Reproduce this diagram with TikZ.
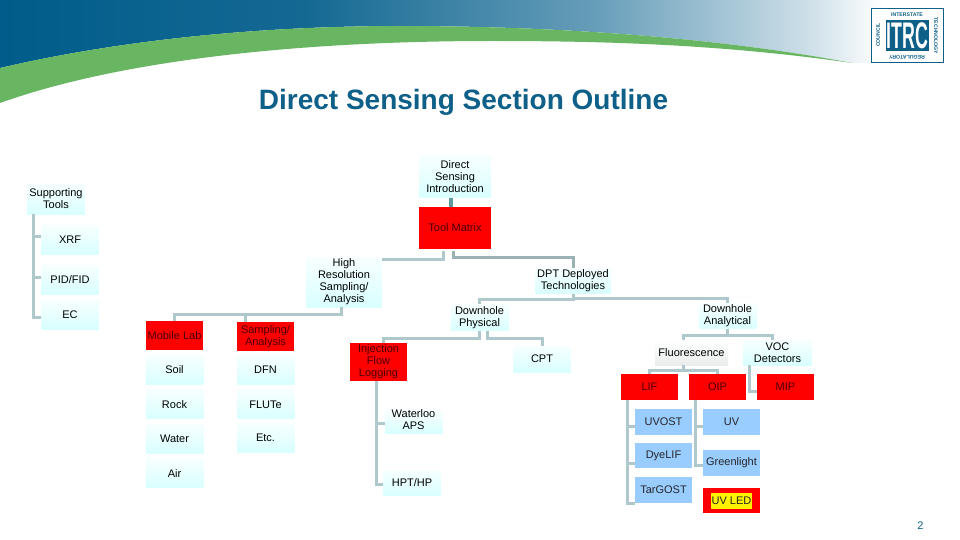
\documentclass[tikz,border=0pt]{standalone}
\usepackage{fontspec}
\setmainfont{Liberation Sans}
\usepackage{xcolor}
\definecolor{itblue}{HTML}{0F6088}
\definecolor{itdeep}{HTML}{005C8A}
\definecolor{itgreen}{HTML}{68B562}
\definecolor{linkgrey}{HTML}{AFC8CC}
\definecolor{linkdark}{HTML}{9BB2B5}
\definecolor{linkteal}{HTML}{5F979F}
\definecolor{boxred}{HTML}{FF0000}
\definecolor{boxsky}{HTML}{99CCFF}
\definecolor{redtext}{HTML}{4A0000}
\usepackage{tikz}
\usetikzlibrary{positioning,calc}
\pgfdeclarehorizontalshading{bannerfade}{100bp}{color(0bp)=(itdeep);color(25bp)=(itdeep);color(41bp)=(itdeep!92!white);color(56bp)=(itdeep!60!white);color(67bp)=(itdeep!20!white);color(71bp)=(white);color(100bp)=(white)}

\begin{document}
\begin{tikzpicture}[x=1pt,y=-1pt]
\tikzset{
 txt/.style={inner sep=0pt,align=center,font=\fontsize{11}{12}\selectfont},
 palebox/.style={txt,top color=cyan!3!white,bottom color=cyan!15!white,minimum width=57.5pt,minimum height=26pt},
 tallbox/.style={palebox,minimum height=29pt},
 redbox/.style={txt,fill=boxred,text=redtext,minimum width=57pt,minimum height=26pt},
 skybox/.style={txt,fill=boxsky,text=black!85,minimum width=57pt,minimum height=26pt},
 link/.style={draw=linkgrey,line width=3pt},
 linkd/.style={draw=linkdark,line width=3pt},
 logotxt/.style={inner sep=0pt,text=itblue,font=\fontsize{5.2}{6}\selectfont\bfseries}
}
\useasboundingbox (0,0) rectangle (960,540);
\fill[white] (0,0) rectangle (960,540);
% banner
\begin{scope}
\clip (0,0) -- (0,68) .. controls (120,40) and (260,26) .. (400,26) .. controls (560,26) and (720,38) .. (852,63) -- (960,63) -- (960,0) -- cycle;
\shade[shading=bannerfade] (0,0) rectangle (960,70);
\end{scope}
\fill[itgreen] (0,68) .. controls (120,40) and (260,26) .. (400,26) .. controls (560,26) and (720,38) .. (852,63) .. controls (720,44) and (600,41) .. (492,41) .. controls (300,41) and (120,60) .. (0,103) -- cycle;
% logo
\node[draw=itblue,line width=1pt,fill=white,minimum width=72pt,minimum height=54pt,inner sep=0pt] (logo) at (907,36) {};
\node[fill=itblue,minimum width=43pt,minimum height=31pt,inner sep=0pt,text=white,font=\fontsize{37}{37}\selectfont\bfseries] (itrc) at (907.5,35.5) {\scalebox{.48}[1]{ITRC}};
\node[logotxt] (lg1) at (907,15) {INTERSTATE};
\node[logotxt,rotate=90] (lg2) at (878,35) {COUNCIL};
\node[logotxt,rotate=-90] (lg3) at (936,36) {TECHNOLOGY};
\node[logotxt,rotate=180] (lg4) at (907,57.5) {REGULATORY};
% title
\node[inner sep=0pt,text=itblue,font=\fontsize{28}{32}\selectfont\bfseries] (title) at (463.5,102.5) {Direct Sensing Section Outline};
\node[inner sep=0pt,text=itblue,font=\fontsize{11}{12}\selectfont] (pagenum) at (920.5,526) {2};
% top
\node[palebox,minimum width=72pt,minimum height=42pt] (intro) at (455,176.5) {Direct\\Sensing\\Introduction};
\node[redbox,minimum width=72pt,minimum height=42pt] (matrix) at (455,228) {Tool Matrix};
\node[palebox,minimum height=30pt] (support) at (56,199) {Supporting\\Tools};
\node[tallbox] (xrf) at (70,239.5) {XRF};
\node[tallbox] (pid) at (70,279.5) {PID/FID};
\node[tallbox] (ec) at (70,314.5) {EC};
% left branch
\node[palebox,minimum width=75pt,minimum height=50pt] (hires) at (344,282) {High\\Resolution\\Sampling/\\Analysis};
\node[redbox,minimum height=29pt] (mobile) at (174.5,335.5) {Mobile Lab};
\node[tallbox,below=5pt of mobile] (soil) {Soil};
\node[tallbox,below=5pt of soil] (rock) {Rock};
\node[tallbox,below=5pt of rock] (water) {Water};
\node[tallbox,below=5pt of water] (air) {Air};
\node[redbox,minimum height=29pt] (sampling) at (265.5,336.5) {Sampling/\\Analysis};
\node[tallbox,below=4pt of sampling] (dfn) {DFN};
\node[tallbox,below=5pt of dfn] (flute) {FLUTe};
\node[tallbox,below=4pt of flute] (etc) {Etc.};
% right branch
\node[palebox,minimum width=76pt,minimum height=25pt] (dpt) at (573,281) {DPT Deployed\\Technologies};
\node[palebox] (physical) at (479.5,317.5) {Downhole\\Physical};
\node[palebox,minimum height=25pt] (analytical) at (727.5,316) {Downhole\\Analytical};
\node[redbox,minimum height=38pt] (injection) at (378.5,362) {Injection\\Flow\\Logging};
\node[palebox,top color=white] (waterloo) at (413.5,420) {Waterloo\\APS};
\node[palebox,minimum height=25pt] (hpt) at (412,482.5) {HPT/HP};
\node[palebox] (cpt) at (542,359) {CPT};
\node[palebox,top color=white,bottom color=cyan!12!black!8!white,minimum width=73pt,minimum height=25pt] (fluor) at (691.5,352.5) {Fluorescence};
\node[palebox,minimum width=69pt,minimum height=25pt] (voc) at (777.5,352.5) {VOC\\Detectors};
\node[redbox] (lif) at (649.5,387) {LIF};
\node[redbox] (oip) at (717.5,387) {OIP};
\node[redbox] (mip) at (785.5,387) {MIP};
\node[skybox] (uvost) at (663.5,422) {UVOST};
\node[skybox,minimum height=25pt] (dye) at (663.5,455.5) {DyeLIF};
\node[skybox] (tar) at (663.5,490) {TarGOST};
\node[skybox] (uv) at (731.5,422) {UV};
\node[skybox] (green) at (731.5,463) {Greenlight};
\node[redbox,minimum height=25pt] (uvledbox) at (731.5,500.5) {};
\node[txt,fill=yellow,text=black!85,minimum width=41pt,minimum height=16pt] (uvled) at (uvledbox.center) {UV LED};
% trunks
\coordinate (suptrunk) at ([xshift=-22.5pt]support.south);
\coordinate (injtrunk) at ([xshift=-2.5pt]injection.south);
\coordinate (liftrunk) at ([xshift=-22.5pt]lif.south);
\coordinate (oiptrunk) at ([xshift=-22.5pt]oip.south);
% connectors
\draw[draw=linkteal,line width=4pt] ([xshift=-4pt]intro.south) -- ([xshift=-4pt]matrix.north);
\draw[link] (suptrunk) |- ([yshift=-2.5pt]ec.west);
\draw[link] (suptrunk |- xrf.west) ++(0,-3.5) -- ++(7.5,0);
\draw[link] (suptrunk |- pid.west) ++(0,-2.5) -- ++(7.5,0);
\draw[link] ([xshift=-12pt,yshift=-2pt]matrix.south) |- ([yshift=23pt]hires.east);
\draw[linkd] ([xshift=-2pt,yshift=-2pt]matrix.south) |- ([yshift=10.5pt]dpt.north) -- (dpt.north);
\draw[link] (dpt.south) |- ([yshift=4.5pt]physical.north) -- (physical.north);
\draw[link] (dpt.south) |- ([yshift=5pt]analytical.north) -- (analytical.north);
\draw[link] (physical.south) |- ([xshift=4.5pt,yshift=4pt]injection.north) -- ([xshift=4.5pt]injection.north);
\draw[link] ([xshift=8pt]physical.south) |- ([yshift=7pt]cpt.north) -- (cpt.north);
\draw[link] ([xshift=-3pt]hires.south) |- ([yshift=6.5pt]mobile.north) -- (mobile.north);
\draw[link] ([xshift=-20.5pt]sampling.north) -- ++(0,-7);
\draw[link] (analytical.south) |- ([xshift=-8.5pt,yshift=4.5pt]fluor.north) -- ([xshift=-8.5pt]fluor.north);
\draw[link] (analytical.south) |- ([xshift=-5.5pt,yshift=4.5pt]voc.north) -- ([xshift=-5.5pt]voc.north);
\draw[link] ([xshift=-8.5pt]fluor.south) |- ([yshift=3pt]lif.north) -- (lif.north);
\draw[link] ([xshift=-8.5pt]fluor.south) |- ([yshift=3pt]oip.north) -- (oip.north);
\draw[link] ([xshift=-28.5pt]voc.south) |- ([yshift=-4pt]mip.west);
\draw[link] (injtrunk) |- ([yshift=-1.5pt]hpt.west);
\draw[link] (injtrunk |- waterloo.west) ++(0,3) -- ++(9,0);
\draw[link] (liftrunk) |- ([yshift=-13pt]tar.west);
\draw[link] (liftrunk |- uvost.west) ++(0,4) -- ++(8,0);
\draw[link] (liftrunk |- dye.west) ++(0,7.5) -- ++(8,0);
\draw[link] (oiptrunk) |- ([yshift=-2pt]green.west);
\draw[link] (oiptrunk |- uv.west) ++(0,4) -- ++(8,0);
\end{tikzpicture}
\end{document}
